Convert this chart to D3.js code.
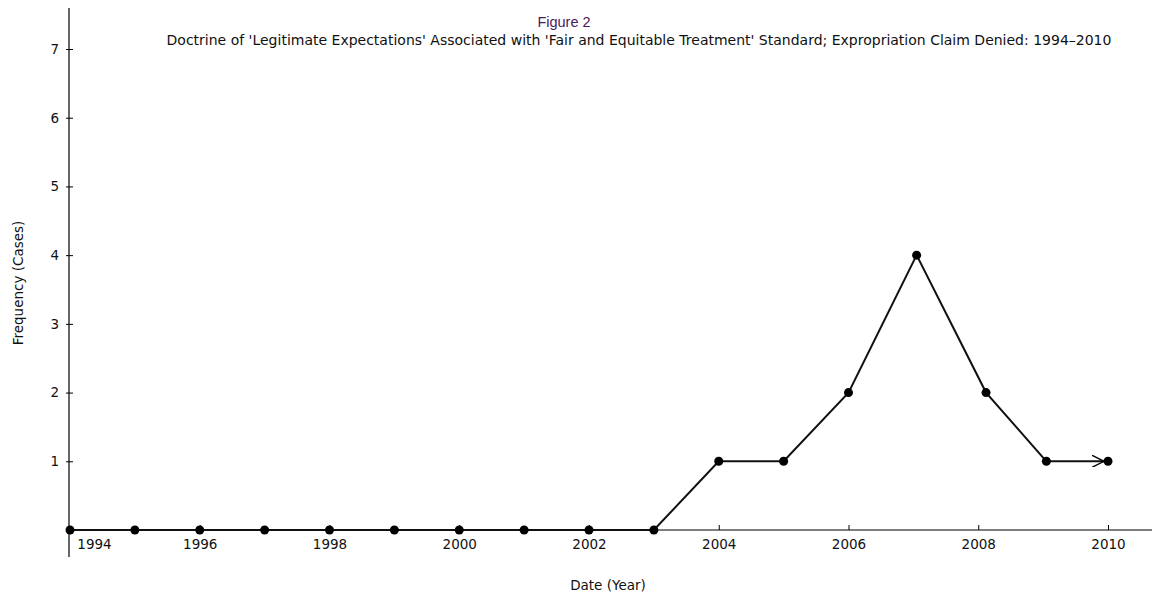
<!DOCTYPE html>
<html>
<head>
<meta charset="utf-8">
<script src="https://cdn.jsdelivr.net/npm/d3@7"></script>
<style>
  body { margin: 0; background: #fff; }
  text { font-family: "DejaVu Sans", sans-serif; }
</style>
</head>
<body>
<svg id="chart" width="1152" height="592"></svg>
<script>
// data (fractional years where the dot sits off the tick)
const years = [1994, 1995, 1996, 1997, 1998, 1999, 2000, 2001, 2002, 2003, 2004, 2005, 2006, 2007.05, 2008.12, 2009.05, 2010];
const cases = [0, 0, 0, 0, 0, 0, 0, 0, 0, 0, 1, 1, 2, 4, 2, 1, 1];
const xTicks = [1994, 1996, 1998, 2000, 2002, 2004, 2006, 2008, 2010];
const yTicks = [1, 2, 3, 4, 5, 6, 7];

const svg = d3.select("#chart");

const x = d3.scaleLinear().domain([1994, 2010]).range([70, 1108]);
const y = d3.scaleLinear().domain([0, 7]).range([530, 49]);

// arrow head for the last segment
svg.append("defs").append("marker")
    .attr("id", "arrow")
    .attr("viewBox", "0 0 10 10")
    .attr("refX", 10).attr("refY", 5)
    .attr("markerWidth", 6).attr("markerHeight", 6)
    .attr("markerUnits", "strokeWidth")
    .attr("orient", "auto")
    .append("path")
    .attr("d", "M0,0 L10,5 L0,10")
    .attr("fill", "none")
    .attr("stroke", "#000")
    .attr("stroke-width", 1.2);

// x axis
const xAxis = svg.append("g")
    .attr("transform", "translate(0,530)")
    .call(d3.axisBottom(x).tickValues(xTicks).tickFormat(d3.format("d")).tickSizeInner(-5).tickSizeOuter(0).tickPadding(9));
xAxis.select(".domain").attr("d", "M69,0H1152").attr("stroke-width", 1.2);
xAxis.selectAll(".tick line").attr("stroke-width", 1);
xAxis.selectAll(".tick text").attr("font-size", 13.5).attr("font-family", "DejaVu Sans").attr("fill", "#111");
xAxis.selectAll(".tick").filter(d => d === 1994).select("text").attr("x", 24);
xAxis.selectAll(".tick").filter(d => d === 1994).select("line").remove();

// y axis
const yAxis = svg.append("g")
    .attr("transform", "translate(69,0)")
    .call(d3.axisLeft(y).tickValues(yTicks).tickFormat(d3.format("d")).tickSizeInner(0).tickSizeOuter(0).tickPadding(10));
yAxis.select(".domain").attr("d", "M0,8V557").attr("stroke-width", 1.2);
yAxis.selectAll(".tick line").attr("x1", -3).attr("x2", 4);
yAxis.selectAll(".tick text").attr("font-size", 13.5).attr("font-family", "DejaVu Sans").attr("fill", "#111");

// line
const pts = years.map((d, i) => ({ year: d, value: cases[i] }));
const line = d3.line().x(d => x(d.year)).y(d => y(d.value));

svg.append("path")
    .datum(pts.slice(0, pts.length - 1))
    .attr("d", line)
    .attr("fill", "none")
    .attr("stroke", "#111")
    .attr("stroke-width", 2);

const last = pts.slice(pts.length - 2);
svg.append("path")
    .datum(last)
    .attr("d", d => `M${x(d[0].year)},${y(d[0].value)}L${x(d[1].year) - 4},${y(d[1].value)}`)
    .attr("fill", "none")
    .attr("stroke", "#111")
    .attr("stroke-width", 2)
    .attr("marker-end", "url(#arrow)");

svg.selectAll(".dot")
    .data(pts)
    .enter().append("circle")
    .attr("class", "dot")
    .attr("cx", d => x(d.year))
    .attr("cy", d => y(d.value))
    .attr("r", 4.5)
    .attr("fill", "#000");

// titles
svg.append("text")
    .attr("x", 564).attr("y", 27)
    .attr("text-anchor", "middle")
    .style("font-family", "Liberation Sans, Arial, sans-serif")
    .attr("font-size", 14.5)
    .attr("fill", "#4b1a5e")
    .text("Figure 2");

svg.append("text")
    .attr("x", 639).attr("y", 45)
    .attr("text-anchor", "middle")
    .attr("font-size", 14)
    .attr("fill", "#111")
    .text("Doctrine of 'Legitimate Expectations' Associated with 'Fair and Equitable Treatment' Standard; Expropriation Claim Denied: 1994–2010");

svg.append("text")
    .attr("transform", "translate(23,283) rotate(-90)")
    .attr("text-anchor", "middle")
    .attr("font-size", 13.5)
    .attr("fill", "#111")
    .text("Frequency (Cases)");

svg.append("text")
    .attr("x", 608).attr("y", 590)
    .attr("text-anchor", "middle")
    .attr("font-size", 13.5)
    .attr("fill", "#111")
    .text("Date (Year)");
</script>
</body>
</html>
